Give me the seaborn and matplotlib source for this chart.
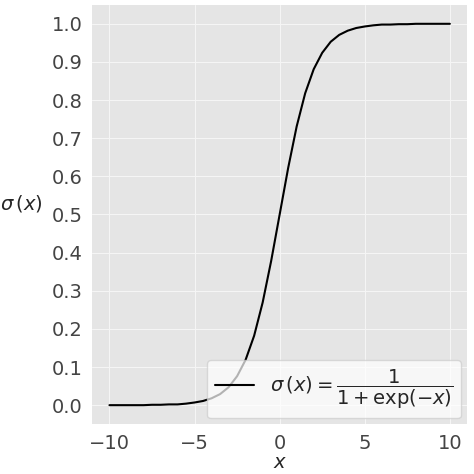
import numpy as np
import pandas as pd
import matplotlib
matplotlib.use("Agg")
import matplotlib.pyplot as plt
import seaborn as sns

# sigma(x) at half-unit steps
x_vals = [-10, -9.5, -9, -8.5, -8, -7.5, -7, -6.5, -6, -5.5, -5, -4.5, -4, -3.5, -3, -2.5, -2, -1.5, -1, -0.5,
          0, 0.5, 1, 1.5, 2, 2.5, 3, 3.5, 4, 4.5, 5, 5.5, 6, 6.5, 7, 7.5, 8, 8.5, 9, 9.5, 10]
sig_left = [0.000, 0.000, 0.000, 0.000, 0.000, 0.001, 0.001, 0.002, 0.002, 0.004, 0.007, 0.011, 0.018,
            0.029, 0.047, 0.076, 0.119, 0.182, 0.269, 0.378]
sig_vals = sig_left + [0.500] + [round(1 - v, 3) for v in sig_left[::-1]]

df = pd.DataFrame({"x": x_vals, "y": sig_vals})

sns.set_style("darkgrid", {"axes.facecolor": "#E5E5E5", "grid.color": "#F5F5F5"})
plt.rcParams["font.family"] = ["DejaVu Sans"]

fig, ax = plt.subplots(figsize=(4.74, 4.74), dpi=100)
sns.lineplot(data=df, x="x", y="y", color="black", linewidth=1.5, ax=ax,
             label=r"$\sigma\,(x) = \dfrac{1}{1 + \exp(-x)}$")

ax.grid(linewidth=0.8)
ax.set_xlim(-11, 11)
ax.set_ylim(-0.05, 1.05)
ax.set_xticks([-10, -5, 0, 5, 10])
ax.set_yticks(np.arange(0, 1.01, 0.1))
ax.set_yticklabels([f"{t:.1f}" for t in np.arange(0, 1.01, 0.1)])
ax.tick_params(labelsize=14, colors="#444444", labelcolor="#444444")
ax.set_xlabel(r"$x$", fontsize=14, labelpad=0)
ax.set_ylabel(r"$\sigma\,(x)$", fontsize=14, rotation=0, labelpad=22)
for s in ax.spines.values():
    s.set_visible(False)
ax.legend(loc="lower right", fontsize=14, frameon=True, facecolor="white", framealpha=0.7,
          handlelength=2.0, borderaxespad=0.3)

fig.subplots_adjust(left=0.195, right=0.985, top=0.99, bottom=0.105)
fig.savefig("out.png", dpi=100)
